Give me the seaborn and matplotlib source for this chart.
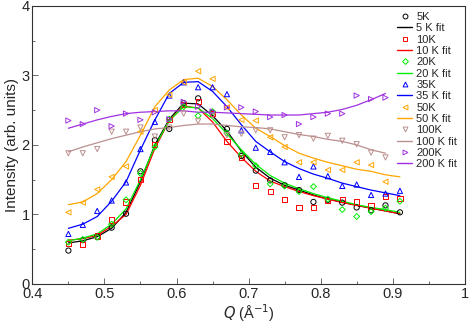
import numpy as np
import matplotlib
matplotlib.use("Agg")
import matplotlib.pyplot as plt
import seaborn as sns

# momentum transfer grid (A^-1)
q_all = [0.45, 0.47, 0.49, 0.51, 0.53, 0.55, 0.57, 0.59, 0.61, 0.63, 0.65, 0.67,
         0.69, 0.71, 0.73, 0.75, 0.77, 0.79, 0.81, 0.83, 0.85, 0.87, 0.89, 0.91]

# measured intensities
i_5k = [0.48, 0.63, 0.68, 0.81, 1.01, 1.62, 2.07, 2.23, 2.60, 2.67, 2.46, 2.23,
        1.84, 1.63, 1.49, 1.42, 1.35, 1.18, 1.21, 1.17, 1.10, 1.06, 1.13, 1.03]
i_10k = [0.58, 0.57, 0.69, 0.92, 1.18, 1.50, 2.01, 2.36, 2.58, 2.63, 2.45, 2.05,
         1.82, 1.42, 1.33, 1.22, 1.10, 1.10, 1.20, 1.21, 1.18, 1.12, 1.26, 1.23]
i_20k = [0.60, 0.64, 0.67, 0.86, 1.21, 1.59, 1.97, 2.37, 2.55, 2.42, 2.48, 2.17,
         1.87, 1.70, 1.44, 1.41, 1.33, 1.40, 1.22, 1.07, 0.97, 1.04, 1.09, 1.19]
i_35k = [0.72, 0.85, 1.05, 1.20, 1.46, 1.94, 2.33, 2.71, 2.90, 2.83, 2.83, 2.73,
         2.21, 1.96, 1.90, 1.75, 1.54, 1.69, 1.55, 1.41, 1.43, 1.28, 1.30, 1.34]
i_50k = [1.03, 1.17, 1.36, 1.54, 1.69, 2.19, 2.50, 2.72, 2.90, 3.06, 2.95, 2.54,
         2.36, 2.35, 2.11, 1.97, 1.75, 1.75, 1.64, 1.64, 1.75, 1.71, 1.47]
i_100k = [1.88, 1.88, 1.94, 2.19, 2.19, 2.25, 2.12, 2.25, 2.45, 2.34, 2.42, 2.14,
          2.16, 2.21, 2.21, 2.11, 2.14, 2.09, 2.13, 2.06, 2.01, 1.89, 1.82]
i_200k = [2.35, 2.30, 2.50, 2.27, 2.45, 2.36, 2.47, 2.37, 2.62, 2.55, 2.48, 2.54,
          2.54, 2.48, 2.40, 2.43, 2.30, 2.40, 2.45, 2.45, 2.71, 2.66, 2.68]

# fitted curves
fit_5k = [0.59, 0.62, 0.68, 0.80, 1.03, 1.47, 2.00, 2.37, 2.60, 2.59, 2.42, 2.20,
          1.91, 1.68, 1.52, 1.42, 1.35, 1.28, 1.22, 1.18, 1.13, 1.09, 1.05, 1.01]
fit_10k = [0.63, 0.65, 0.70, 0.83, 1.00, 1.42, 1.95, 2.35, 2.56, 2.53, 2.33, 2.05,
           1.82, 1.62, 1.48, 1.40, 1.33, 1.27, 1.22, 1.17, 1.13, 1.09, 1.05, 1.01]
fit_20k = [0.62, 0.66, 0.72, 0.86, 1.08, 1.50, 1.98, 2.35, 2.55, 2.53, 2.38, 2.16,
           1.93, 1.72, 1.56, 1.45, 1.37, 1.30, 1.24, 1.19, 1.14, 1.10, 1.07, 1.03]
fit_35k = [0.80, 0.86, 0.97, 1.19, 1.47, 1.93, 2.36, 2.74, 2.90, 2.91, 2.77, 2.55,
           2.29, 2.05, 1.90, 1.76, 1.66, 1.58, 1.52, 1.45, 1.40, 1.35, 1.31, 1.27]
fit_50k = [1.14, 1.18, 1.30, 1.50, 1.76, 2.14, 2.55, 2.79, 2.94, 2.96, 2.84, 2.65,
           2.43, 2.24, 2.12, 1.99, 1.88, 1.81, 1.75, 1.70, 1.65, 1.62, 1.57, 1.54]
fit_100k = [1.90, 1.97, 2.03, 2.09, 2.14, 2.19, 2.23, 2.25, 2.28, 2.30, 2.30, 2.28,
            2.26, 2.25, 2.23, 2.19, 2.15, 2.12, 2.08, 2.05, 2.00, 1.93, 1.88]
fit_200k = [2.24, 2.30, 2.36, 2.41, 2.45, 2.47, 2.48, 2.49, 2.49, 2.47, 2.47, 2.46,
            2.45, 2.44, 2.43, 2.43, 2.43, 2.45, 2.47, 2.51, 2.57, 2.65, 2.74]

temps = ["5K", "10K", "20K", "35K", "50K", "100K", "200K"]
colors = ["#000000", "#ff0000", "#00ee00", "#0000ff", "#ffa500", "#bc8f8f", "#a030e0"]
markers = ["o", "s", "D", "^", "<", "v", ">"]
data = [i_5k, i_10k, i_20k, i_35k, i_50k, i_100k, i_200k]
fits = [fit_5k, fit_10k, fit_20k, fit_35k, fit_50k, fit_100k, fit_200k]

sns.set_style("ticks")
plt.rcParams["font.family"] = ["Liberation Sans", "DejaVu Sans"]

fig = plt.figure(figsize=(4.69, 3.26), dpi=100)
ax = fig.add_axes([0.069, 0.129, 0.922, 0.853])

handles = []
for t, c, m, y, f in zip(temps, colors, markers, data, fits):
    sns.scatterplot(x=q_all[:len(y)], y=y, marker=m, s=14 if m != "D" else 9,
                    facecolor="none", edgecolor=c, linewidth=0.7, ax=ax, zorder=3)
    sns.lineplot(x=q_all[:len(f)], y=f, color=c, linewidth=0.9, sort=False,
                 errorbar=None, ax=ax, zorder=2)
    handles.append(plt.Line2D([], [], marker=m, ls="none", mfc="none", mec=c,
                              ms=3.5 if m != "D" else 3, mew=0.7, label=t))
    handles.append(plt.Line2D([], [], color=c, lw=1.0, label=t.replace("K", " K fit")))

ax.set_xlim(0.4, 1.0)
ax.set_ylim(0, 4)
ax.set_xticks(np.arange(0.4, 1.01, 0.1))
ax.set_xticklabels(["0.4", "0.5", "0.6", "0.7", "0.8", "0.9", "1"])
ax.set_xticks(np.arange(0.45, 1.0, 0.1), minor=True)
ax.set_yticks([0, 1, 2, 3, 4])
ax.set_yticks([0.5, 1.5, 2.5, 3.5], minor=True)
ax.tick_params(which="both", direction="in", top=False, right=False,
               labelsize=10.5, width=0.6, color="#555555", pad=2)
ax.tick_params(which="major", length=4.5)
ax.tick_params(which="minor", length=2.5)
for sp in ax.spines.values():
    sp.set_linewidth(0.8)
    sp.set_color("#333333")

ax.set_xlabel("$Q$ (Å$^{-1}$)", fontsize=10.5, labelpad=1)
ax.set_ylabel("Intensity (arb. units)", fontsize=11, labelpad=2)

leg = ax.legend(handles=handles, loc="upper left", bbox_to_anchor=(0.843, 0.978),
                frameon=False, fontsize=8, labelspacing=0.12, handlelength=1.4,
                handletextpad=0.35, borderaxespad=0.0, borderpad=0.0)

fig.savefig("out.png", dpi=100)
plt.close(fig)
